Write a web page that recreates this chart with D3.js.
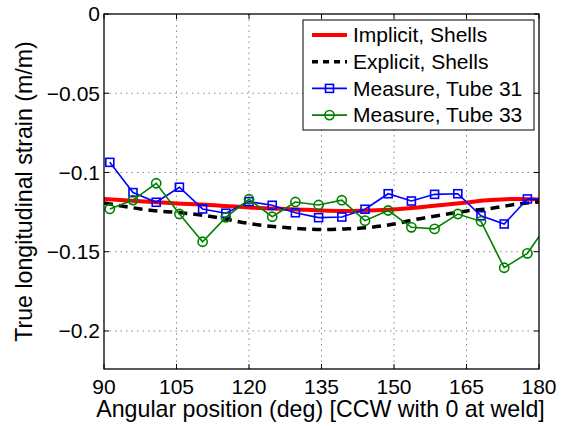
<!DOCTYPE html>
<html>
<head>
<meta charset="utf-8">
<script src="https://cdn.jsdelivr.net/npm/d3@7/dist/d3.min.js"></script>
<style>
  body { margin: 0; background: #fff; }
  svg { display: block; font-family: "Liberation Sans", Arial, Helvetica, sans-serif; }
</style>
</head>
<body>
<svg id="chart"></svg>
<script>
// model curves, every 5 deg
const angleModel = [90, 95, 100, 105, 110, 115, 120, 125, 130, 135, 140, 145, 150, 155, 160, 165, 170, 175, 180];
const implicitShells = [-0.1167, -0.1177, -0.1186, -0.1196, -0.1202, -0.1211, -0.1221, -0.1227, -0.1233, -0.1240,
  -0.1243, -0.1240, -0.1233, -0.1221, -0.1205, -0.1189, -0.1174, -0.1167, -0.1170];
const explicitShells = [-0.1192, -0.1218, -0.1240, -0.1252, -0.1268, -0.1293, -0.1322, -0.1341, -0.1353, -0.1360,
  -0.1356, -0.1347, -0.1325, -0.1293, -0.1268, -0.1243, -0.1227, -0.1202, -0.1186];

// gauge measurements
const angleMeasured = [91.2, 96.0, 100.8, 105.6, 110.4, 115.2, 120.0, 124.8, 129.6, 134.4,
  139.2, 144.0, 148.8, 153.6, 158.4, 163.2, 168.0, 172.8, 177.6, 182.4];
const tube31 = [-0.0936, -0.1127, -0.1188, -0.1093, -0.1230, -0.1257, -0.1184, -0.1207, -0.1254, -0.1285,
  -0.1281, -0.1232, -0.1134, -0.1180, -0.1138, -0.1134, -0.1273, -0.1325, -0.1167, -0.1171];
const tube33 = [-0.1230, -0.1174, -0.1068, -0.1262, -0.1437, -0.1283, -0.1169, -0.1279, -0.1186, -0.1205,
  -0.1175, -0.1304, -0.1240, -0.1346, -0.1356, -0.1262, -0.1308, -0.1601, -0.1510, -0.1300];

const xTicks = [90, 105, 120, 135, 150, 165, 180];
const yTicks = [0, -0.05, -0.1, -0.15, -0.2];
const legendNames = ['Implicit, Shells', 'Explicit, Shells', 'Measure, Tube 31', 'Measure, Tube 33'];

const W = 562, H = 426;
const margin = { top: 14, right: 23, bottom: 57, left: 104 };
const width = W - margin.left - margin.right;
const height = H - margin.top - margin.bottom;
const fontSize = 21;
const titleSize = 23.2;

const svg = d3.select('#chart').attr('width', W).attr('height', H);

const x = d3.scaleLinear().domain([90, 180]).range([0, width]);
const y = d3.scaleLinear().domain([-0.224, 0]).range([height, 0]);

const g = svg.append('g').attr('transform', `translate(${margin.left},${margin.top})`);

svg.append('defs').append('clipPath').attr('id', 'clip')
  .append('rect').attr('width', width).attr('height', height);

// dotted grid
g.selectAll('.gx').data(xTicks.slice(1, -1)).enter().append('line')
  .attr('x1', d => x(d)).attr('x2', d => x(d)).attr('y1', 0).attr('y2', height)
  .attr('stroke', '#888').attr('stroke-width', 1).attr('stroke-dasharray', '1.5,4');
g.selectAll('.gy').data(yTicks.slice(1)).enter().append('line')
  .attr('y1', d => y(d)).attr('y2', d => y(d)).attr('x1', 0).attr('x2', width)
  .attr('stroke', '#888').attr('stroke-width', 1).attr('stroke-dasharray', '1.5,4');

const plot = g.append('g').attr('clip-path', 'url(#clip)');

const model = (vals) => d3.line().x((d, i) => x(angleModel[i])).y(d => y(d)).curve(d3.curveMonotoneX)(vals);
const meas = (vals) => d3.line().x((d, i) => x(angleMeasured[i])).y(d => y(d))(vals);

plot.append('path').attr('d', model(implicitShells))
  .attr('fill', 'none').attr('stroke', '#ff0000').attr('stroke-width', 4);
plot.append('path').attr('d', model(explicitShells))
  .attr('fill', 'none').attr('stroke', '#000').attr('stroke-width', 3.5).attr('stroke-dasharray', '9,6');

plot.append('path').attr('d', meas(tube31))
  .attr('fill', 'none').attr('stroke', '#0000ff').attr('stroke-width', 1.6);
plot.selectAll('.sq').data(tube31).enter().append('rect')
  .attr('x', (d, i) => x(angleMeasured[i]) - 4).attr('y', d => y(d) - 4)
  .attr('width', 8).attr('height', 8)
  .attr('fill', 'none').attr('stroke', '#0000ff').attr('stroke-width', 1.6);

plot.append('path').attr('d', meas(tube33))
  .attr('fill', 'none').attr('stroke', '#008000').attr('stroke-width', 1.6);
plot.selectAll('.ci').data(tube33).enter().append('circle')
  .attr('cx', (d, i) => x(angleMeasured[i])).attr('cy', d => y(d)).attr('r', 4.6)
  .attr('fill', 'none').attr('stroke', '#008000').attr('stroke-width', 1.6);

// box and inward ticks on all sides
g.append('rect').attr('width', width).attr('height', height)
  .attr('fill', 'none').attr('stroke', '#000').attr('stroke-width', 1.3);
const tl = 5;
xTicks.forEach(t => {
  g.append('line').attr('x1', x(t)).attr('x2', x(t)).attr('y1', height).attr('y2', height - tl).attr('stroke', '#000');
  g.append('line').attr('x1', x(t)).attr('x2', x(t)).attr('y1', 0).attr('y2', tl).attr('stroke', '#000');
});
yTicks.forEach(t => {
  g.append('line').attr('x1', 0).attr('x2', tl).attr('y1', y(t)).attr('y2', y(t)).attr('stroke', '#000');
  g.append('line').attr('x1', width).attr('x2', width - tl).attr('y1', y(t)).attr('y2', y(t)).attr('stroke', '#000');
});

// tick labels
g.selectAll('.xl').data(xTicks).enter().append('text')
  .attr('x', d => x(d)).attr('y', height + 25)
  .attr('text-anchor', 'middle').attr('font-size', fontSize).text(d => d);
g.selectAll('.yl').data(yTicks).enter().append('text')
  .attr('x', -4).attr('y', d => y(d)).attr('dy', '0.35em')
  .attr('text-anchor', 'end').attr('font-size', fontSize)
  .text(d => d === 0 ? '0' : '\u2212' + String(Math.abs(d)));

// axis titles
svg.append('text').attr('x', margin.left + width / 2 - 1).attr('y', 417)
  .attr('text-anchor', 'middle').attr('font-size', titleSize)
  .text('Angular position (deg) [CCW with 0 at weld]');
svg.append('text').attr('transform', `translate(32,${margin.top + height / 2}) rotate(-90)`)
  .attr('text-anchor', 'middle').attr('font-size', titleSize)
  .text('True longitudinal strain (m/m)');

// legend
const lg = svg.append('g').attr('transform', 'translate(303,20)');
lg.append('rect').attr('width', 231).attr('height', 110)
  .attr('fill', '#fff').attr('stroke', '#000').attr('stroke-width', 1);
const styles = [
  { c: '#ff0000', w: 4, dash: null, m: null },
  { c: '#000', w: 3.5, dash: '6,5', m: null },
  { c: '#0000ff', w: 1.6, dash: null, m: 'sq' },
  { c: '#008000', w: 1.6, dash: null, m: 'ci' }
];
legendNames.forEach((name, i) => {
  const s = styles[i];
  const ry = 15 + i * 26.7;
  lg.append('line').attr('x1', 9).attr('x2', 44).attr('y1', ry).attr('y2', ry)
    .attr('stroke', s.c).attr('stroke-width', s.w).attr('stroke-dasharray', s.dash);
  if (s.m === 'sq') {
    lg.append('rect').attr('x', 22.5).attr('y', ry - 4).attr('width', 8).attr('height', 8)
      .attr('fill', 'none').attr('stroke', s.c).attr('stroke-width', 1.6);
  } else if (s.m === 'ci') {
    lg.append('circle').attr('cx', 26.5).attr('cy', ry).attr('r', 4.6)
      .attr('fill', 'none').attr('stroke', s.c).attr('stroke-width', 1.6);
  }
  lg.append('text').attr('x', 50).attr('y', ry).attr('dy', '0.35em')
    .attr('font-size', fontSize).text(name);
});
</script>
</body>
</html>
